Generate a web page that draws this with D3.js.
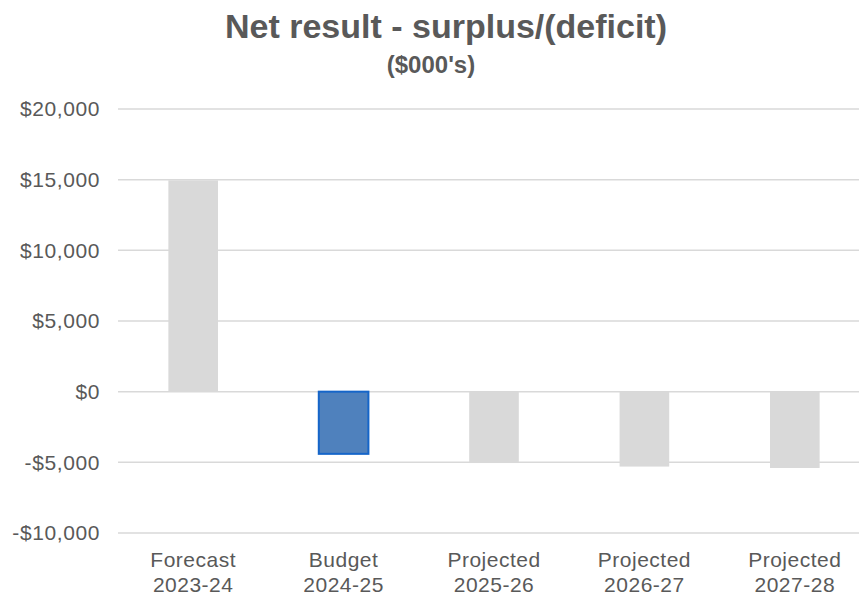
<!DOCTYPE html>
<html>
<head>
<meta charset="utf-8">
<script src="https://cdn.jsdelivr.net/npm/d3@7"></script>
<style>
  body { margin: 0; background: #fff; }
  text { font-family: "Liberation Sans", Arial, sans-serif; fill: #595959; }
</style>
</head>
<body>
<div id="chart"></div>
<script>
// Data
const categories = ["Forecast 2023-24", "Budget 2024-25", "Projected 2025-26", "Projected 2026-27", "Projected 2027-28"];
const values = [14950, -4400, -5050, -5300, -5400];
const highlight = [false, true, false, false, false];
const tickValues = [-10000, -5000, 0, 5000, 10000, 15000, 20000];

const width = 859, height = 595;
const margin = {top: 109, right: -11, bottom: 62, left: 118};

const svg = d3.select("#chart").append("svg")
  .attr("width", width).attr("height", height);

const x = d3.scaleBand()
  .domain(categories)
  .range([margin.left, width - margin.right])
  .paddingInner(0.67).paddingOuter(0.335);

const y = d3.scaleLinear()
  .domain([-10000, 20000])
  .range([height - margin.bottom, margin.top]);

// gridlines
svg.append("g").selectAll("line")
  .data(tickValues).enter().append("line")
  .attr("x1", margin.left).attr("x2", width)
  .attr("y1", d => y(d)).attr("y2", d => y(d))
  .attr("stroke", "#d9d9d9").attr("stroke-width", 1.5);

// y tick labels
const fmt = d => (d < 0 ? "-$" : "$") + d3.format(",")(Math.abs(d));
svg.append("g").selectAll("text")
  .data(tickValues).enter().append("text")
  .attr("x", 100).attr("y", d => y(d))
  .attr("dy", "0.35em").attr("text-anchor", "end")
  .attr("font-size", "21px").attr("letter-spacing", "0.6px")
  .text(fmt);

// bars
svg.append("g").selectAll("rect")
  .data(categories).enter().append("rect")
  .attr("x", d => x(d))
  .attr("width", x.bandwidth())
  .attr("y", (d, i) => y(Math.max(0, values[i])))
  .attr("height", (d, i) => Math.abs(y(values[i]) - y(0)))
  .attr("fill", (d, i) => highlight[i] ? "#4f81bd" : "#d9d9d9")
  .attr("stroke", (d, i) => highlight[i] ? "#1565c9" : "none")
  .attr("stroke-width", 2);

// category labels
const cx = d => x(d) + x.bandwidth() / 2;
const lab = svg.append("g").selectAll("text")
  .data(categories).enter().append("text")
  .attr("x", cx)
  .attr("y", 567)
  .attr("text-anchor", "middle")
  .attr("font-size", "21px").attr("letter-spacing", "0.5px");
lab.append("tspan").attr("x", cx)
  .text(d => d.split(" ")[0]);
lab.append("tspan").attr("x", cx).attr("dy", 25)
  .text(d => d.split(" ")[1]);

// title
svg.append("text")
  .attr("x", 446).attr("y", 38)
  .attr("text-anchor", "middle")
  .attr("font-size", "34px").attr("font-weight", "bold")
  .text("Net result - surplus/(deficit)");
svg.append("text")
  .attr("x", 431).attr("y", 73)
  .attr("text-anchor", "middle")
  .attr("font-size", "24px").attr("font-weight", "bold")
  .text("($000's)");
</script>
</body>
</html>
